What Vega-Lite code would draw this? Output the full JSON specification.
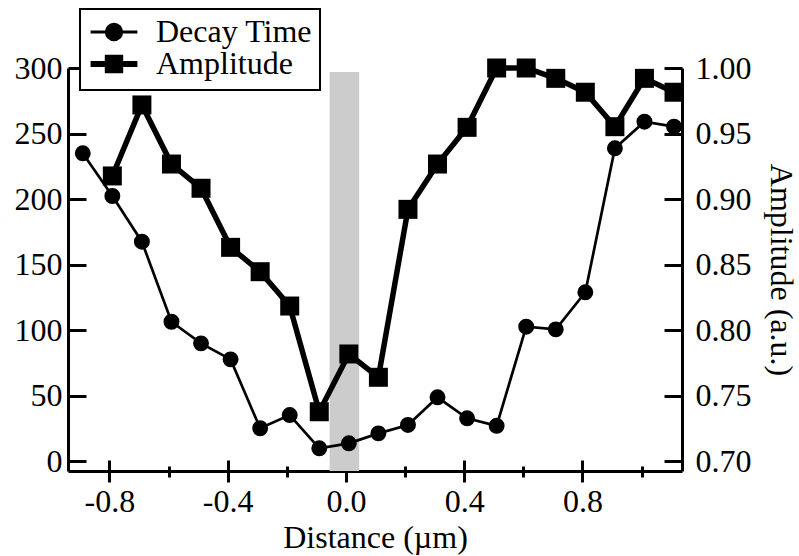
{
  "$schema": "https://vega.github.io/schema/vega-lite/v6.json",
  "width": 614,
  "height": 403,
  "autosize": {"type": "none"},
  "padding": {"left": 68, "top": 68, "right": 117, "bottom": 85},
  "background": "white",
  "config": {
    "view": {"stroke": null},
    "font": "Liberation Serif",
    "axis": {
      "labelFont": "Liberation Serif",
      "titleFont": "Liberation Serif",
      "labelFontSize": 32,
      "titleFontSize": 32,
      "titleFontWeight": "normal",
      "labelColor": "black",
      "titleColor": "black",
      "domainColor": "black",
      "tickColor": "black",
      "domainWidth": 3,
      "tickWidth": 3,
      "grid": false,
      "labelOverlap": false,
      "labelFlush": false
    },
    "legend": {"strokeWidth": 2}
  },
  "datasets": {
    "main": [
      {"distance": -0.89, "decay": 234.9, "amplitude": null},
      {"distance": -0.79, "decay": 202.3, "amplitude": 0.9176},
      {"distance": -0.69, "decay": 167.4, "amplitude": 0.9718},
      {"distance": -0.59, "decay": 106.3, "amplitude": 0.9267},
      {"distance": -0.49, "decay": 89.8, "amplitude": 0.9082},
      {"distance": -0.39, "decay": 77.6, "amplitude": 0.8631},
      {"distance": -0.29, "decay": 25.0, "amplitude": 0.8445},
      {"distance": -0.19, "decay": 35.1, "amplitude": 0.8183},
      {"distance": -0.09, "decay": 9.7, "amplitude": 0.7376},
      {"distance": 0.01, "decay": 13.5, "amplitude": 0.7817},
      {"distance": 0.11, "decay": 21.1, "amplitude": 0.7639},
      {"distance": 0.21, "decay": 27.5, "amplitude": 0.8921},
      {"distance": 0.31, "decay": 48.6, "amplitude": 0.9267},
      {"distance": 0.41, "decay": 32.6, "amplitude": 0.9547},
      {"distance": 0.51, "decay": 26.9, "amplitude": 1.0},
      {"distance": 0.61, "decay": 102.5, "amplitude": 1.0},
      {"distance": 0.71, "decay": 100.5, "amplitude": 0.9921},
      {"distance": 0.81, "decay": 128.8, "amplitude": 0.9815},
      {"distance": 0.91, "decay": 238.7, "amplitude": 0.9552},
      {"distance": 1.01, "decay": 259.0, "amplitude": 0.9921},
      {"distance": 1.11, "decay": 255.2, "amplitude": 0.9815}
    ],
    "band": [
      {"start": -0.055, "end": 0.045, "low": -7.63, "top": 297}
    ],
    "series": [
      {"series": "Decay Time"},
      {"series": "Amplitude"}
    ]
  },
  "layer": [
    {
      "layer": [
        {
          "data": {"name": "band"},
          "mark": {"type": "rect", "color": "#cccccc"},
          "encoding": {
            "x": {
              "field": "start",
              "type": "quantitative",
              "scale": {"domain": [-0.94, 1.137], "nice": false, "zero": false},
              "axis": {
                "orient": "bottom",
                "values": [-0.8, -0.6, -0.4, -0.2, 0, 0.2, 0.4, 0.6, 0.8, 1.0],
                "labelExpr": "round(datum.value*10) % 4 == 0 ? replace(format(datum.value, '.1f'), '\u2212', '-') : ''",
                "tickSize": {"condition": {"test": "round(datum.value*10) % 4 == 0", "value": 11}, "value": 6},
                "labelPadding": 4,
                "title": "Distance (µm)",
                "titlePadding": 5
              }
            },
            "x2": {"field": "end"},
            "y": {
              "field": "low",
              "type": "quantitative",
              "scale": {"domain": [-7.63, 300], "nice": false, "zero": false},
              "axis": {
                "orient": "left",
                "values": [0, 50, 100, 150, 200, 250, 300],
                "tickSize": -18,
                "labelPadding": 24,
                "title": null
              }
            },
            "y2": {"field": "top"}
          }
        },
        {
          "data": {"name": "main"},
          "mark": {"type": "line", "color": "black", "strokeWidth": 2.7},
          "encoding": {
            "x": {"field": "distance", "type": "quantitative"},
            "y": {"field": "decay", "type": "quantitative"}
          }
        },
        {
          "data": {"name": "main"},
          "mark": {"type": "point", "shape": "circle", "filled": true, "color": "black", "size": 254, "opacity": 1},
          "encoding": {
            "x": {"field": "distance", "type": "quantitative"},
            "y": {"field": "decay", "type": "quantitative"}
          }
        },
        {
          "data": {"name": "series"},
          "mark": {"type": "point", "filled": true, "color": "black", "opacity": 0},
          "encoding": {
            "shape": {
              "field": "series",
              "type": "nominal",
              "scale": {
                "domain": ["Decay Time", "Amplitude"],
                "range": [
                  "M-2.6,0H2.6M0.85,0A0.85,0.85,0,1,1,-0.85,0A0.85,0.85,0,1,1,0.85,0Z",
                  "M-2.6,0H2.6M-0.69,-0.69H0.69V0.69H-0.69Z"
                ]
              },
              "legend": {
                "title": null,
                "orient": "none",
                "legendX": 12,
                "legendY": -59,
                "fillColor": "white",
                "strokeColor": "black",
                "padding": 7,
                "rowPadding": -5,
                "symbolSize": 324,
                "symbolOpacity": 1,
                "symbolOffset": 11,
                "labelOffset": 26,
                "labelFont": "Liberation Serif",
                "labelFontSize": 32,
                "labelColor": "black"
              }
            },
            "stroke": {
              "field": "series",
              "type": "nominal",
              "scale": {"domain": ["Decay Time", "Amplitude"], "range": ["black", "black"]},
              "legend": {
                "title": null,
                "orient": "none",
                "legendX": 12,
                "legendY": -59,
                "fillColor": "white",
                "strokeColor": "black",
                "padding": 7,
                "rowPadding": -5,
                "symbolSize": 324,
                "symbolOpacity": 1,
                "symbolOffset": 11,
                "labelOffset": 26,
                "labelFont": "Liberation Serif",
                "labelFontSize": 32,
                "labelColor": "black"
              }
            },
            "strokeWidth": {
              "field": "series",
              "type": "ordinal",
              "scale": {"domain": ["Decay Time", "Amplitude"], "range": [3, 6]},
              "legend": {
                "title": null,
                "orient": "none",
                "legendX": 12,
                "legendY": -59,
                "fillColor": "white",
                "strokeColor": "black",
                "padding": 7,
                "rowPadding": -5,
                "symbolSize": 324,
                "symbolOpacity": 1,
                "symbolOffset": 11,
                "labelOffset": 26,
                "labelFont": "Liberation Serif",
                "labelFontSize": 32,
                "labelColor": "black"
              }
            }
          }
        }
      ]
    },
    {
      "layer": [
        {
          "data": {"name": "main"},
          "mark": {"type": "line", "color": "black", "strokeWidth": 5.5},
          "encoding": {
            "x": {
              "field": "distance",
              "type": "quantitative",
              "axis": {
                "orient": "bottom",
                "values": [-0.8, -0.6, -0.4, -0.2, 0, 0.2, 0.4, 0.6, 0.8, 1.0],
                "labels": false,
                "domain": false,
                "title": null,
                "tickSize": {"condition": {"test": "round(datum.value*10) % 4 == 0", "value": -11}, "value": -5}
              }
            },
            "y": {
              "field": "amplitude",
              "type": "quantitative",
              "scale": {"domain": [0.69237, 1.0], "nice": false, "zero": false},
              "axis": {
                "orient": "right",
                "values": [0.7, 0.75, 0.8, 0.85, 0.9, 0.95, 1.0],
                "format": ".2f",
                "tickSize": -18,
                "labelPadding": 31,
                "title": "Amplitude (a.u.)",
                "titlePadding": 12
              }
            }
          }
        },
        {
          "data": {"name": "main"},
          "mark": {"type": "point", "shape": "square", "filled": true, "color": "black", "size": 361, "opacity": 1},
          "encoding": {
            "x": {"field": "distance", "type": "quantitative"},
            "y": {"field": "amplitude", "type": "quantitative"}
          }
        }
      ]
    }
  ],
  "resolve": {
    "scale": {"y": "independent"},
    "axis": {"x": "independent", "y": "independent"}
  }
}
